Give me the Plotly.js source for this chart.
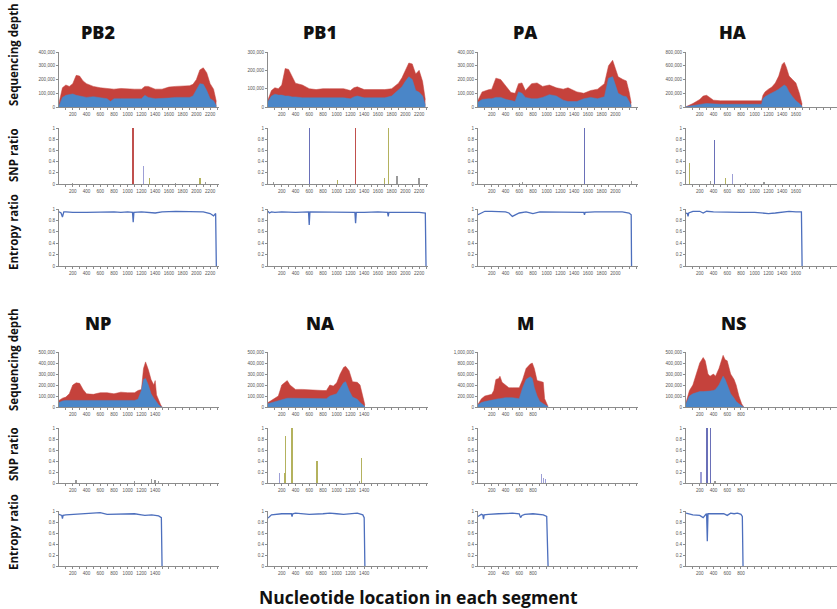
<!DOCTYPE html>
<html><head><meta charset="utf-8">
<script src="https://cdn.plot.ly/plotly-3.0.1.min.js"></script>
<style>html,body{margin:0;padding:0;background:#fff}#chart{width:837px;height:609px}</style>
</head><body><div id="chart"></div>
<script>
// ---------- DATA ----------
const segmentNames = ["PB2","PB1","PA","HA","NP","NA","M","NS"];
const depthMax  = [400000,300000,400000,800000,500000,500000,1000000,500000];
const depthStep = [100000,100000,100000,200000,100000,100000,200000,100000];
const lastLabel = [2200,2200,2000,1600,1400,1400,800,800];

// Sequencing depth (thousands of reads): position, total (red), subset (blue)
const PB2_pos   = [0,50,100,150,200,250,300,350,400,500,600,700,750,800,900,1000,1100,1200,1250,1300,1400,1500,1600,1700,1800,1900,1950,2000,2050,2100,2150,2200,2250,2290];
const PB2_total = [30,140,160,150,170,230,225,190,170,150,140,135,130,130,135,130,130,130,150,150,130,130,145,150,150,155,165,200,270,285,250,170,130,40];
const PB2_part  = [10,70,85,90,95,85,80,75,70,75,70,60,40,60,60,60,60,60,85,70,60,60,65,70,70,70,80,120,170,165,120,60,45,10];

const PB1_pos   = [0,50,100,150,200,250,300,350,400,500,600,700,800,900,1000,1100,1200,1250,1300,1400,1500,1600,1700,1800,1900,1950,2000,2050,2100,2150,2200,2250,2290];
const PB1_total = [40,90,105,100,120,210,205,170,130,120,100,95,100,100,100,100,90,105,110,95,95,95,95,100,130,160,200,240,235,180,200,140,40];
const PB1_part  = [30,60,70,65,65,60,60,55,55,50,50,50,50,50,50,50,45,55,60,50,50,50,50,60,90,110,140,165,150,90,80,60,10];

const PA_pos    = [0,60,150,200,260,330,410,480,540,590,640,690,780,860,940,1040,1140,1240,1310,1440,1540,1640,1740,1840,1900,1960,2000,2040,2110,2160,2200,2230];
const PA_total  = [50,110,125,130,210,200,150,105,100,170,175,120,170,175,150,160,140,130,140,110,100,120,130,170,300,340,280,220,200,190,110,30];
const PA_part   = [35,55,60,60,70,70,55,45,40,110,100,70,60,60,70,90,80,50,40,40,60,70,60,75,210,220,160,100,80,75,40,10];

const HA_pos    = [0,100,200,250,300,350,400,500,600,700,800,900,1000,1100,1120,1150,1200,1250,1300,1350,1400,1430,1460,1500,1550,1600,1650,1690];
const HA_total  = [5,50,110,160,170,130,100,90,90,90,95,95,90,90,170,220,260,290,350,450,620,650,580,450,400,350,200,40];
const HA_part   = [5,25,40,45,50,45,40,40,40,40,40,40,40,40,120,150,180,200,230,260,300,320,300,220,150,90,50,10];

const NP_pos    = [0,50,100,150,200,250,300,350,400,500,600,700,800,900,1000,1100,1150,1200,1230,1260,1300,1340,1380,1400,1420,1450,1480,1500];
const NP_total  = [60,80,90,120,200,220,215,160,120,115,130,130,120,135,130,130,150,160,350,410,340,250,200,240,110,60,20,0];
const NP_part   = [40,55,60,60,60,60,60,55,55,55,60,60,60,60,60,60,70,150,250,260,200,120,80,60,40,20,5,0];

const NA_pos    = [0,50,100,150,200,250,280,320,400,500,600,700,800,850,900,950,1000,1050,1100,1130,1180,1230,1300,1340,1380,1410];
const NA_total  = [40,60,75,100,200,230,240,200,160,160,155,155,150,150,200,190,220,300,360,370,330,230,225,200,100,20];
const NA_part   = [30,40,50,60,70,75,80,80,80,80,80,80,75,75,100,110,120,170,220,230,150,90,70,40,20,5];

const M_pos     = [0,50,100,200,230,260,300,320,350,400,450,500,600,650,700,760,790,820,860,900,950,970,1000,1020];
const M_total   = [50,150,200,230,300,500,520,560,450,400,350,350,350,500,700,780,800,700,480,470,450,150,50,10];
const M_part    = [40,80,100,130,140,150,150,150,160,170,170,170,150,350,500,550,520,350,200,100,60,40,20,5];

const NS_pos    = [0,50,100,150,200,250,280,320,350,400,430,480,540,570,600,650,700,730,770,810,840];
const NS_total  = [40,150,200,300,400,450,420,300,280,300,280,350,470,430,420,300,250,200,100,30,0];
const NS_part   = [30,100,120,130,140,140,140,140,145,150,160,200,280,250,200,120,80,50,30,15,0];

// SNP ratio spikes: position, ratio, allele class
const PB2_snpPos = [200,1075,1230,1320,1700,2050,2130];
const PB2_snpVal = [0.02,1.0,0.32,0.1,0.02,0.1,0.03];
const PB2_snpCls = ["k","r","l","g","k","g","k"];
const PB1_snpPos = [80,600,1010,1275,1700,1750,1880,2200];
const PB1_snpVal = [0.04,1.0,0.08,1.0,0.1,1.0,0.14,0.1];
const PB1_snpCls = ["k","b","g","r","g","g","k","k"];
const PA_snpPos  = [600,650,1550,2230];
const PA_snpVal  = [0.02,0.03,1.0,0.05];
const PA_snpCls  = ["k","k","b","k"];
const HA_snpPos  = [50,355,417,575,680,870,1135];
const HA_snpVal  = [0.38,0.05,0.78,0.1,0.17,0.02,0.03];
const HA_snpCls  = ["g","k","b","g","l","k","k"];
const NP_snpPos  = [250,1100,1350,1400,1450];
const NP_snpVal  = [0.05,0.03,0.08,0.05,0.04];
const NP_snpCls  = ["k","k","k","k","k"];
const NA_snpPos  = [170,240,252,350,714,1330,1360];
const NA_snpVal  = [0.18,0.18,0.85,1.0,0.4,0.03,0.45];
const NA_snpCls  = ["l","g","g","g","g","k","g"];
const M_snpPos   = [920,955,985];
const M_snpVal   = [0.17,0.1,0.08];
const M_snpCls   = ["l","l","l"];
const NS_snpPos  = [220,307,356,420];
const NS_snpVal  = [0.2,1.0,1.0,0.03];
const NS_snpCls  = ["l","b","b","k"];

// Entropy ratio
const PB2_entPos = [0,30,50,70,100,200,400,600,800,900,1000,1070,1080,1090,1200,1400,1500,1700,1900,2000,2100,2200,2250,2280,2290];
const PB2_entVal = [0.95,0.93,0.86,0.95,0.95,0.94,0.94,0.95,0.95,0.94,0.95,0.94,0.77,0.94,0.95,0.93,0.95,0.96,0.96,0.96,0.95,0.92,0.88,0.92,0];
const PB1_entPos = [0,20,50,100,200,400,590,600,610,800,1000,1200,1265,1275,1285,1400,1600,1740,1750,1760,1900,2100,2200,2290,2300];
const PB1_entVal = [0.96,0.93,0.95,0.94,0.95,0.94,0.95,0.72,0.95,0.95,0.95,0.95,0.94,0.75,0.94,0.94,0.95,0.94,0.87,0.94,0.94,0.95,0.94,0.93,0];
const PA_entPos  = [0,50,100,200,300,400,450,480,500,550,600,700,800,900,1000,1200,1400,1540,1550,1560,1700,1900,2100,2200,2230,2235];
const PA_entVal  = [0.9,0.93,0.96,0.96,0.96,0.95,0.93,0.9,0.87,0.9,0.93,0.95,0.92,0.95,0.95,0.95,0.95,0.94,0.9,0.94,0.95,0.95,0.95,0.93,0.9,0];
const HA_entPos  = [0,20,30,40,100,200,250,300,400,600,800,1000,1200,1300,1400,1500,1600,1680,1690];
const HA_entVal  = [0.93,0.92,0.87,0.93,0.96,0.96,0.93,0.96,0.95,0.94,0.94,0.94,0.92,0.93,0.95,0.96,0.95,0.95,0];
const NP_entPos  = [0,40,50,60,100,200,400,600,700,900,1100,1200,1250,1350,1450,1490,1500];
const NP_entVal  = [0.94,0.92,0.86,0.92,0.93,0.94,0.95,0.97,0.94,0.95,0.95,0.93,0.92,0.93,0.91,0.88,0];
const NA_entPos  = [0,50,200,340,350,360,400,600,800,900,1000,1100,1300,1380,1400,1410];
const NA_entVal  = [0.87,0.93,0.95,0.95,0.9,0.95,0.96,0.94,0.95,0.96,0.95,0.94,0.96,0.93,0.88,0];
const M_entPos   = [0,50,70,80,90,150,300,500,600,610,620,640,680,800,950,1000,1020];
const M_entVal   = [0.9,0.94,0.93,0.85,0.93,0.94,0.95,0.96,0.95,0.92,0.88,0.92,0.94,0.95,0.93,0.9,0];
const NS_entPos  = [0,100,200,250,290,300,310,320,400,550,600,650,700,750,800,820,830];
const NS_entVal  = [0.96,0.93,0.92,0.88,0.94,0.95,0.45,0.95,0.95,0.95,0.92,0.96,0.95,0.96,0.94,0.9,0];

const rowLabels = ["Sequencing depth","SNP ratio","Entropy ratio"];
const xTitle = "Nucleotide location in each segment";

// ---------- BUILD ----------
const depthData = [
  [PB2_pos,PB2_total,PB2_part],[PB1_pos,PB1_total,PB1_part],[PA_pos,PA_total,PA_part],[HA_pos,HA_total,HA_part],
  [NP_pos,NP_total,NP_part],[NA_pos,NA_total,NA_part],[M_pos,M_total,M_part],[NS_pos,NS_total,NS_part]];
const snpData = [
  [PB2_snpPos,PB2_snpVal,PB2_snpCls],[PB1_snpPos,PB1_snpVal,PB1_snpCls],[PA_snpPos,PA_snpVal,PA_snpCls],[HA_snpPos,HA_snpVal,HA_snpCls],
  [NP_snpPos,NP_snpVal,NP_snpCls],[NA_snpPos,NA_snpVal,NA_snpCls],[M_snpPos,M_snpVal,M_snpCls],[NS_snpPos,NS_snpVal,NS_snpCls]];
const entData = [
  [PB2_entPos,PB2_entVal],[PB1_entPos,PB1_entVal],[PA_entPos,PA_entVal],[HA_entPos,HA_entVal],
  [NP_entPos,NP_entVal],[NA_entPos,NA_entVal],[M_entPos,M_entVal],[NS_entPos,NS_entVal]];

const W = 837, H = 609;
const colLeft = [59,268,478,686];
const colWidth = [160,160,160,151];
const pxPerUnit = 0.0687;
const rowPx = [ // [top,bottom] for depth, snp, entropy
  [[52,107],[128,184],[209,266]],
  [[352,407],[428,483],[511,566]]
];
const clsColor = {r:"#c0504d", b:"#6a70b8", l:"#9d9fd6", g:"#b4b25e", k:"#9a9a9a"};
const tickFont = {family:"Liberation Sans, Arial, sans-serif", size:4.6, color:"#555"};

const traces = [];
const layout = {
  width:W, height:H, margin:{l:0,r:0,t:0,b:0}, showlegend:false,
  paper_bgcolor:"#fff", plot_bgcolor:"rgba(0,0,0,0)", bargap:0,
  annotations:[]
};

let ax = 0;
for (let s = 0; s < 8; s++) {
  const r = Math.floor(s/4), c = s % 4;
  const xr = colWidth[c] / pxPerUnit;
  const xd = [colLeft[c]/W, (colLeft[c]+colWidth[c])/W];
  const tv = [], tt = [];
  for (let v = 100; v <= xr; v += 100) { tv.push(v); tt.push((v % 200 === 0 && v <= lastLabel[s]) ? String(v) : ""); }
  for (let p = 0; p < 3; p++) {
    ax++;
    const xa = "x" + (ax===1?"":ax), ya = "y" + (ax===1?"":ax);
    const xk = "xaxis" + (ax===1?"":ax), yk = "yaxis" + (ax===1?"":ax);
    const [top,bot] = rowPx[r][p];
    layout[xk] = {domain:xd, range:[0,xr], anchor:ya, showgrid:false, zeroline:false,
      showline:true, linecolor:"#8c8c8c", linewidth:1, ticks:"outside", ticklen:2, tickcolor:"#8c8c8c",
      tickmode:"array", tickvals:tv, ticktext:tt, tickfont:tickFont, tickangle:0, fixedrange:true};
    const ymax = p===0 ? depthMax[s] : 1;
    const ystep = p===0 ? depthStep[s] : 0.2;
    layout[yk] = {domain:[1-bot/H, 1-top/H], range:[0,ymax], anchor:xa, showgrid:false, zeroline:false,
      showline:true, linecolor:"#8c8c8c", linewidth:1, ticks:"outside", ticklen:2, tickcolor:"#8c8c8c",
      dtick:ystep, tick0:0, tickformat: p===0 ? ",d" : "", tickfont:tickFont, fixedrange:true};
    if (p === 0) {
      const [pos,tot,part] = depthData[s];
      traces.push({type:"scatter", mode:"lines", x:pos, y:tot.map(v=>v*1000), xaxis:xa, yaxis:ya,
        fill:"tozeroy", fillcolor:"#c5423c", line:{color:"#c5423c", width:0.5}});
      traces.push({type:"scatter", mode:"lines", x:pos, y:part.map(v=>v*1000), xaxis:xa, yaxis:ya,
        fill:"tozeroy", fillcolor:"#4a86c8", line:{color:"#4a86c8", width:0.5}});
    } else if (p === 1) {
      const [pos,val,cls] = snpData[s];
      traces.push({type:"bar", x:pos, y:val, xaxis:xa, yaxis:ya, width:20,
        marker:{color:cls.map(k=>clsColor[k]), line:{width:0}}});
    } else {
      const [pos,val] = entData[s];
      traces.push({type:"scatter", mode:"lines", x:pos, y:val, xaxis:xa, yaxis:ya,
        line:{color:"#4d6fbd", width:1.3}});
    }
  }
}

const titleCx = [98,320,525,733];
const titleCy = [32,323];
const boldFont = "'Open Sans', Lato, sans-serif";
for (let s = 0; s < 8; s++) {
  const r = Math.floor(s/4), c = s % 4;
  layout.annotations.push({text:segmentNames[s], xref:"paper", yref:"paper",
    x:titleCx[c]/W, y:1-titleCy[r]/H, xanchor:"center", yanchor:"middle", showarrow:false,
    font:{family:boldFont, size:18, color:"#111", weight:800}});
}
const rowLabelCy = [[55,155,232],[360,454,532]];
for (let r = 0; r < 2; r++) for (let p = 0; p < 3; p++) {
  layout.annotations.push({text:rowLabels[p], xref:"paper", yref:"paper",
    x:13/W, y:1-rowLabelCy[r][p]/H, xanchor:"center", yanchor:"middle", textangle:-90, showarrow:false,
    font:{family:boldFont, size:11.5, color:"#111", weight:700}});
}
layout.annotations.push({text:xTitle, xref:"paper", yref:"paper",
  x:418/W, y:1-597/H, xanchor:"center", yanchor:"middle", showarrow:false,
  font:{family:boldFont, size:17.5, color:"#111", weight:700}});

Plotly.newPlot("chart", traces, layout, {displayModeBar:false, staticPlot:true});
</script></body></html>
